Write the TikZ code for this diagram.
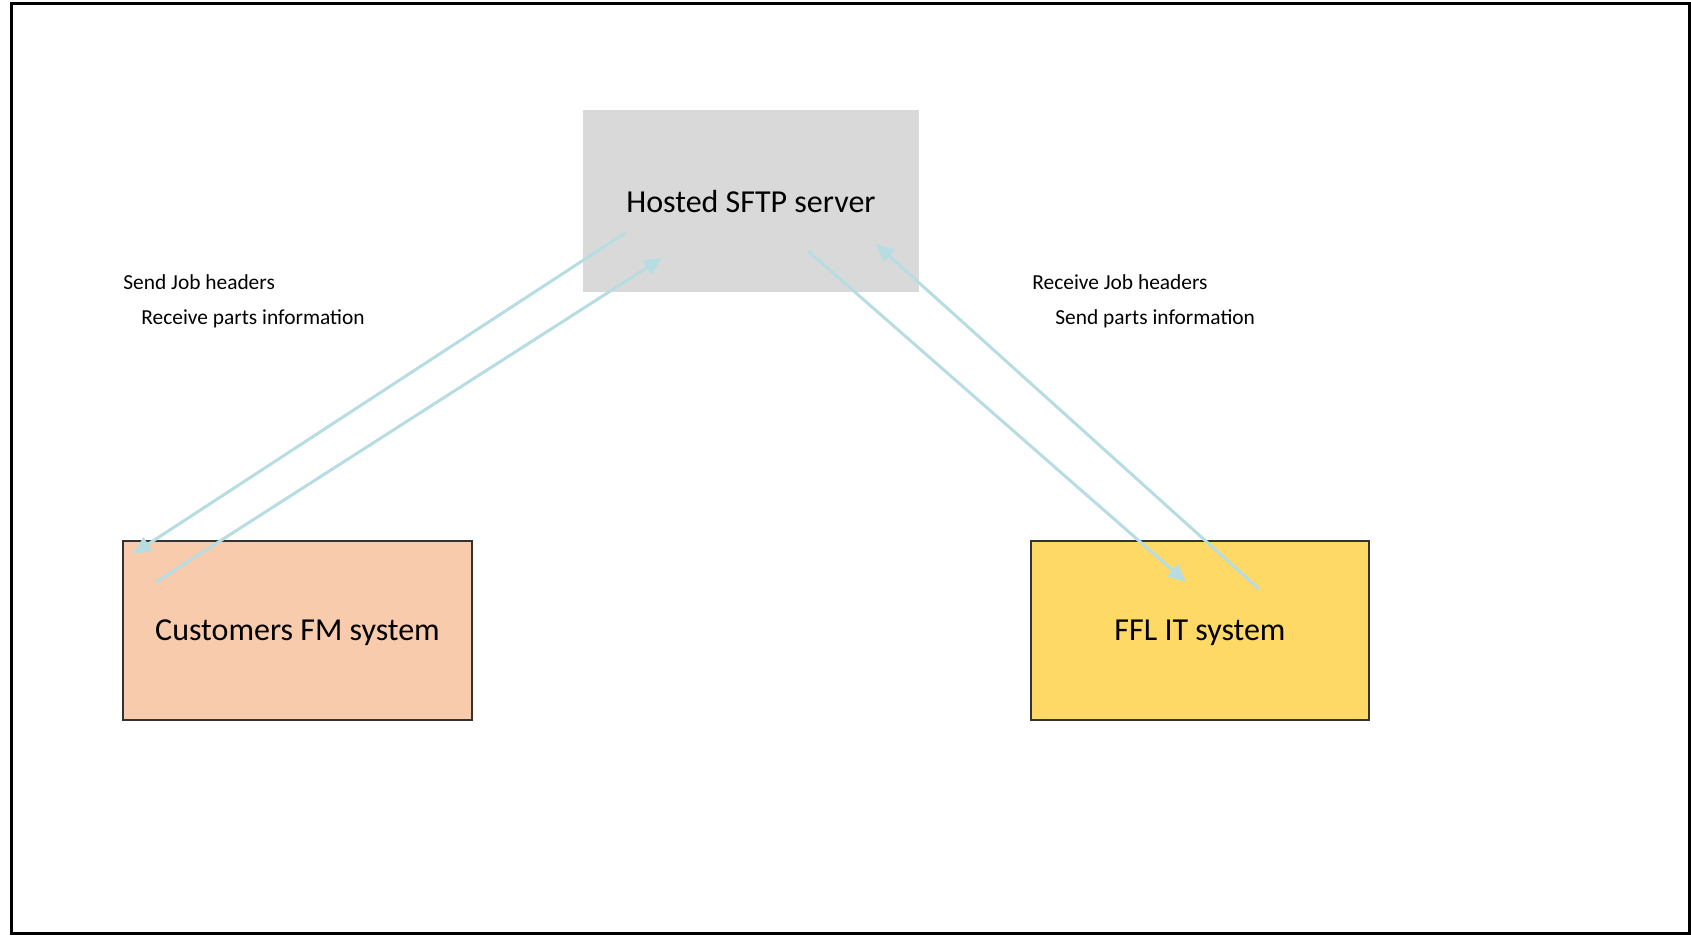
\documentclass[tikz,border=0pt]{standalone}
\usepackage{fontspec}
\setmainfont{Carlito}
\usetikzlibrary{arrows.meta}
\definecolor{srvgray}{HTML}{D9D9D9}
\definecolor{custpeach}{HTML}{F8CBAD}
\definecolor{fflyellow}{HTML}{FFD966}
\definecolor{flowblue}{HTML}{B7DDE3}
\tikzset{
  sysbox/.style={draw=black!80, line width=0.8pt, inner sep=0pt, text depth=0pt, font=\fontsize{16}{19}\selectfont},
  srvbox/.style={inner sep=0pt, text depth=0pt, font=\fontsize{16}{19}\selectfont},
  flow/.style={draw=flowblue, line width=1.5pt, -{Triangle[length=9pt,width=8pt]}},
  lbl/.style={anchor=base west, inner sep=0pt, font=\fontsize{10.7}{13}\selectfont},
}
\begin{document}
\begin{tikzpicture}[x=0.5pt,y=-0.5pt]
\useasboundingbox (0,0) rectangle (1691,937);
\fill[white] (0,0) rectangle (1691,937);
\draw[line width=1.5pt] (11,3) rectangle (1689,933);

\node[srvbox, fill=srvgray, minimum width=168pt, minimum height=91pt] (srv) at (751,201) {Hosted SFTP server};
\node[sysbox, fill=custpeach, minimum width=174.5pt, minimum height=89.5pt] (cust) at (297.5,630.5) {Customers FM system};
\node[sysbox, fill=fflyellow, minimum width=169pt, minimum height=89.5pt] (ffl) at (1200,630.5) {FFL IT system};

\node[lbl] (l1) at (123,289) {Send Job headers};
\node[lbl] (l2) at (141,324) {Receive parts information};
\node[lbl] (r1) at (1032,289) {Receive Job headers};
\node[lbl] (r2) at (1055,324) {Send parts information};

\coordinate (a1s) at (625,233);
\coordinate (a1e) at (133,554);
\coordinate (a2s) at (156,582);
\coordinate (a2e) at (662,258);
\coordinate (a3s) at (808,251);
\coordinate (a3e) at (1186,582);
\coordinate (a4s) at (1259,589);
\coordinate (a4e) at (876,244);

\draw[flow] (a1s) -- (a1e);
\draw[flow] (a2s) -- (a2e);
\draw[flow] (a3s) -- (a3e);
\draw[flow] (a4s) -- (a4e);
\end{tikzpicture}
\end{document}
